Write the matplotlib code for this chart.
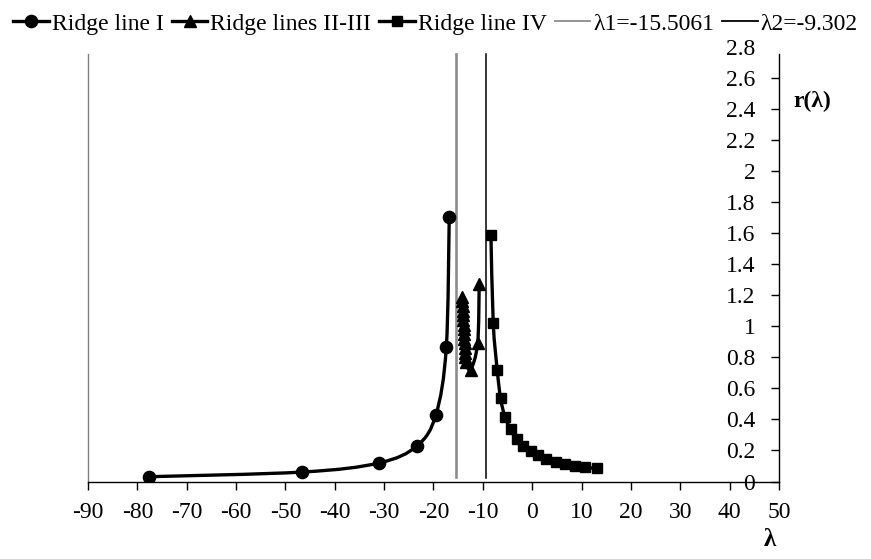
import numpy as np
import matplotlib
matplotlib.use("Agg")
import matplotlib.pyplot as plt
from matplotlib.path import Path
from matplotlib.patches import PathPatch
from matplotlib.lines import Line2D

plt.rcParams['font.family'] = ['Liberation Serif', 'DejaVu Serif']

# Ridge line I
lam_1 = [-77.6, -46.6, -31.1, -23.35, -19.5, -17.4, -16.8]
r_1 = [0.031, 0.061, 0.119, 0.229, 0.43, 0.864, 1.705]

# Ridge lines II-III
lam_23 = [-14.17, -14.12, -14.07, -14.02, -13.97, -13.92, -13.87, -13.82, -13.77,
          -13.72, -13.67, -13.62, -13.57, -13.52, -13.45, -12.47, -11.05, -10.73]
r_23 = [1.19, 1.16, 1.13, 1.10, 1.07, 1.04, 1.01, 0.98, 0.95,
        0.92, 0.89, 0.86, 0.83, 0.80, 0.77, 0.72, 0.89, 1.27]

# Ridge line IV
lam_4 = [-8.35, -7.89, -7.08, -6.4, -5.52, -4.37, -3.15, -1.8, -0.3, 1.2,
         2.9, 4.8, 6.6, 8.7, 10.7, 13.05]
r_4 = [1.587, 1.023, 0.718, 0.536, 0.417, 0.336, 0.274, 0.229, 0.196, 0.169,
       0.147, 0.128, 0.113, 0.100, 0.091, 0.085]

lambda1 = -15.5061
lambda2 = -9.302
vline_r = [0.03, 2.75]

x_ticks = list(range(-90, 51, 10))
y_ticks = [round(0.2 * i, 1) for i in range(15)]
y_tick_labels = ['0' if v == 0 else ('%g' % v) for v in y_ticks]


def smooth_path(xs, ys, tension=1.0 / 6.0):
    """Bezier path through the points (Excel-like smoothed line)."""
    pts = np.column_stack([xs, ys]).astype(float)
    n = len(pts)
    verts = [pts[0]]
    codes = [Path.MOVETO]
    for i in range(n - 1):
        p0 = pts[i - 1] if i > 0 else pts[i]
        p1 = pts[i]
        p2 = pts[i + 1]
        p3 = pts[i + 2] if i + 2 < n else pts[i + 1]
        c1 = p1 + (p2 - p0) * tension
        c2 = p2 - (p3 - p1) * tension
        verts += [c1, c2, p2]
        codes += [Path.CURVE4] * 3
    return Path(verts, codes)


fig = plt.figure(figsize=(8.71, 5.59), dpi=100)
ax = fig.add_axes([0.101, 0.1386, 0.7933, 0.778])
ax.set_xlim(-90, 50)
ax.set_ylim(0, 2.8)

lw = 2.4
series = [
    (lam_1, r_1, 'o', 8.8, 'Ridge line I'),
    (lam_23, r_23, '^', 8.8, 'Ridge lines II-III'),
    (lam_4, r_4, 's', 7.8, 'Ridge line IV'),
]
handles = []
for xs, ys, mk, ms, lab in series:
    ax.add_patch(PathPatch(smooth_path(xs, ys), facecolor='none', edgecolor='black',
                           lw=lw, capstyle='round', joinstyle='round', zorder=3))
    ax.plot(xs, ys, ls='none', marker=mk, ms=ms, color='black', zorder=4)
    handles.append(Line2D([], [], color='black', lw=lw, marker=mk, ms=ms, label=lab))

ax.plot([lambda1, lambda1], vline_r, color='#8c8c8c', lw=1.9, zorder=2)
ax.plot([lambda2, lambda2], [0.02, 2.75], color='black', lw=1.1, zorder=2)
handles.append(Line2D([], [], color='#8c8c8c', lw=1.3, label='λ1=-15.5061'))
handles.append(Line2D([], [], color='black', lw=1.3, label='λ2=-9.302'))

# left boundary line of the plot area
ax.plot([-90, -90], [0, 2.75], color='#7f7f7f', lw=1.0, zorder=1, clip_on=False)

# axes styling
for s in ['top', 'right']:
    ax.spines[s].set_visible(False)
ax.spines['left'].set_position(('data', 50))
ax.spines['left'].set_bounds(0, 2.75)
ax.spines['left'].set_linewidth(1.0)
ax.spines['bottom'].set_linewidth(1.0)

ax.set_xticks(x_ticks)
ax.set_xticklabels([str(v) for v in x_ticks])
ax.set_yticks(y_ticks)
ax.set_yticklabels(y_tick_labels)
ax.tick_params(axis='x', direction='out', length=6, width=1, pad=9, labelsize=17)
ax.tick_params(axis='y', direction='out', length=6, width=1, pad=11, labelsize=17)
ax.yaxis.get_major_ticks()[-1].tick1line.set_visible(False)

fig.text(770 / 871, 1 - 540 / 559, 'λ', ha='center', va='center', fontsize=18,
         fontweight='bold')
fig.text(812 / 871, 1 - 101 / 559, 'r(λ)', ha='center', va='center', fontsize=17,
         fontweight='bold')

fig.legend(handles=handles, loc='upper center', bbox_to_anchor=(0.5, 1.0), ncol=5,
           frameon=False, fontsize=17, handlelength=1.5, handletextpad=0.12,
           columnspacing=0.35, borderaxespad=0.15)

fig.savefig('out.png', dpi=100)
